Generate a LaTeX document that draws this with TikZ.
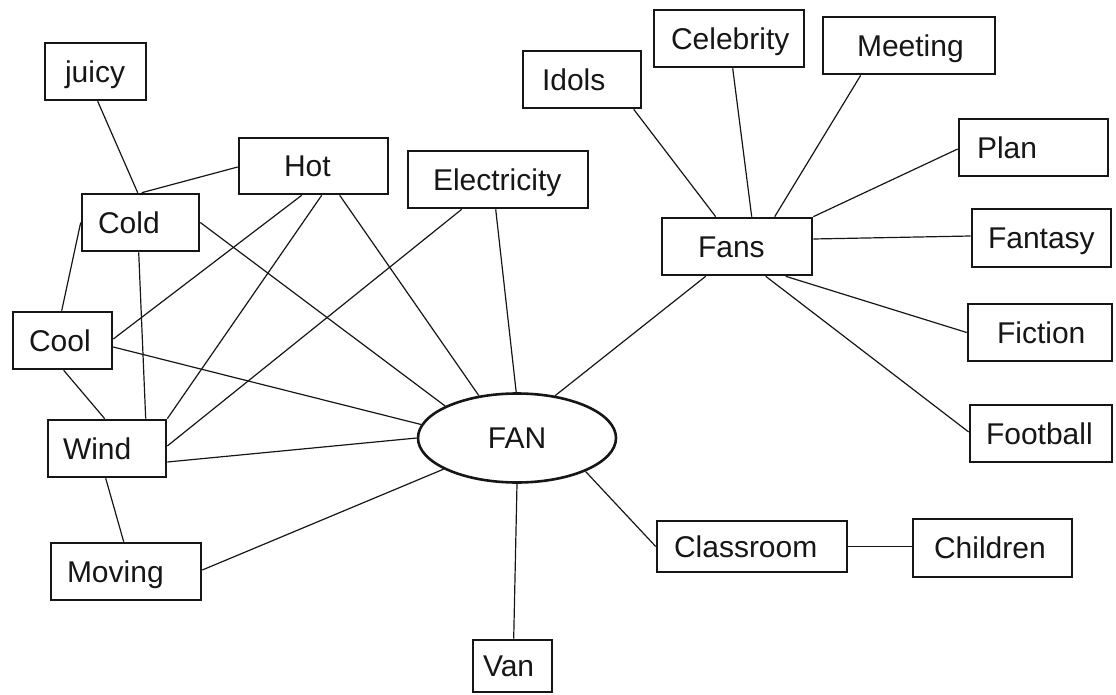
\documentclass[tikz,border=0pt]{standalone}
\usepackage{fontspec}
\setmainfont{Liberation Sans}
\usetikzlibrary{calc,shapes.geometric}
\definecolor{ink}{HTML}{161616}
\begin{document}
\begin{tikzpicture}[x=1pt,y=-1pt,
  word/.style={rectangle, draw=ink, line width=2.6pt, inner ysep=0pt, align=left,
    minimum height=57pt, text height=21.5pt, text depth=0pt, text=ink,
    font=\fontsize{30}{36}\selectfont},
  link/.style={draw=ink, line width=1.2pt}]
\useasboundingbox (0,0) rectangle (1116,695);

% central concept
\node[ellipse, draw=ink, line width=2.6pt, minimum width=198pt, minimum height=89pt,
      inner sep=0pt, text=ink, font=\fontsize{30}{36}\selectfont] (fan) at (517,438) {FAN};

% left-hand cluster
\node[word, text width=61pt,  inner xsep=20pt] (juicy) at (95.5,71.5)  {juicy};
\node[word, text width=59pt,  inner xsep=45pt, minimum height=56pt] (hot) at (313.5,166) {Hot};
\node[word, text width=85pt,  inner xsep=16pt] (cold)  at (140.5,222.5) {Cold};
\node[word, text width=130pt, inner xsep=25pt] (elec)  at (498,179.5)  {Electricity};
\node[word, text width=67pt,  inner xsep=16pt] (cool)  at (62.5,340.5) {Cool};
\node[word, text width=88pt,  inner xsep=15pt] (wind)  at (107,448.5)  {Wind};
\node[word, text width=118pt, inner xsep=16pt] (moving) at (126,571.5) {Moving};

% lower branch
\node[word, text width=59pt,  inner xsep=10pt, minimum height=52pt] (van) at (512.5,666) {Van};
\node[word, text width=156pt, inner xsep=17pt, minimum height=51pt] (classroom) at (752,546.5) {Classroom};
\node[word, text width=117pt, inner xsep=21pt, minimum height=58pt] (children) at (992.5,548) {Children};

% right-hand cluster
\node[word, text width=78pt,  inner xsep=36pt] (fans)      at (737,246.5)  {Fans};
\node[word, text width=80pt,  inner xsep=19pt] (idols)     at (582,79.5)   {Idols};
\node[word, text width=116pt, inner xsep=17pt] (celebrity) at (729,38.5)   {Celebrity};
\node[word, text width=104pt, inner xsep=34pt] (meeting)   at (909,45.5)   {Meeting};
\node[word, text width=113pt, inner xsep=18pt] (plan)      at (1033.5,147.5) {Plan};
\node[word, text width=107pt, inner xsep=16pt, minimum height=58pt] (fantasy) at (1041.5,238) {Fantasy};
\node[word, text width=86pt,  inner xsep=29pt] (fiction)   at (1040,332.5) {Fiction};
\node[word, text width=110pt, inner xsep=16pt] (football)  at (1041,433.5) {Football};

% connectors around Cold, Hot and Wind
\draw[link] ($(juicy.south west)+(54,0)$) -- ($(cold.north west)+(57,0)$);
\draw[link] ($(hot.west)+(0,1)$) -- ($(cold.north west)+(61,0)$);
\draw[link] (cold.west) -- ($(cool.north west)+(50,0)$);
\draw[link] ($(cold.south west)+(58,0)$) -- ($(wind.north west)+(99,0)$);
\draw[link] (cold.east) -- (fan.156);
\draw[link] ($(hot.south west)+(64,0)$) -- ($(cool.east)+(0,-1.5)$);
\draw[link] ($(hot.south west)+(84,0)$) -- (wind.north east);
\draw[link] ($(hot.south west)+(102,0)$) -- (fan.132);
\draw[link] ($(elec.south west)+(55,0)$) -- ($(wind.east)+(0,-2.5)$);
\draw[link] ($(elec.south west)+(89,0)$) -- (fan.91);
\draw[link] ($(cool.east)+(0,6.5)$) -- (fan.172);
\draw[link] ($(cool.south west)+(52,0)$) -- ($(wind.north west)+(58,0)$);
\draw[link] ($(wind.east)+(0,13.5)$) -- (fan.west);
\draw[link] ($(wind.south west)+(59,0)$) -- ($(moving.north west)+(74,0)$);
\draw[link] ($(moving.east)+(0,-1.5)$) -- (fan.203);

% connectors below and right of FAN
\draw[link] (fan.south) -- ($(van.north west)+(42,0)$);
\draw[link] (fan.334) -- (classroom.west);
\draw[link] (classroom.east) -- (classroom.east -| children.west);
\draw[link] (fan.48.5) -- ($(fans.south west)+(45,0)$);

% connectors around Fans
\draw[link] ($(fans.north west)+(55,0)$)  -- ($(idols.south west)+(112,0)$);
\draw[link] ($(fans.north west)+(91,0)$)  -- ($(celebrity.south west)+(80,0)$);
\draw[link] ($(fans.north west)+(114,0)$) -- ($(meeting.south west)+(39,0)$);
\draw[link] (fans.north east) -- ($(plan.west)+(0,1.5)$);
\draw[link] ($(fans.east)+(0,-7.5)$) -- ($(fantasy.west)+(0,-2)$);
\draw[link] ($(fans.south west)+(125,0)$) -- (fiction.west);
\draw[link] ($(fans.south west)+(105,0)$) -- ($(football.west)+(0,-1.5)$);
\end{tikzpicture}
\end{document}
